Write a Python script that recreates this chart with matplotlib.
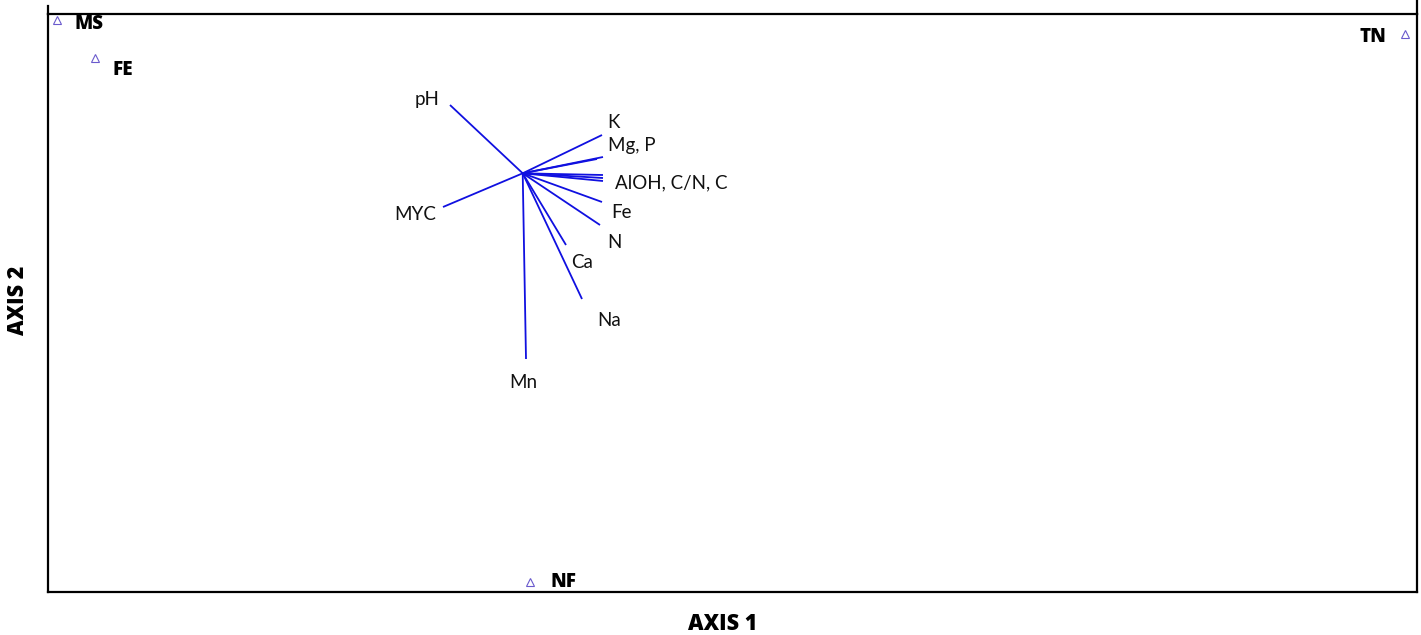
import matplotlib
matplotlib.use("Agg")
import matplotlib.pyplot as plt
from matplotlib.lines import Line2D

# Site scores
sites = ["MS", "FE", "TN", "NF"]
site_x = [-4.657, -4.277, 8.823, 0.073]
site_y = [1.533, 1.153, 1.393, -4.087]

# Environmental vectors (biplot arrows)
var_names = ["pH", "K", "Mg", "P", "AlOH", "C/N", "C", "Fe", "N", "Ca", "Na", "Mn", "MYC"]
var_x = [-0.727, 0.793, 0.803, 0.743, 0.803, 0.803, 0.803, 0.793, 0.773, 0.433, 0.593, 0.033, -0.797]
var_y = [0.683, 0.383, 0.163, 0.143, -0.017, -0.047, -0.077, -0.287, -0.517, -0.717, -1.257, -1.857, -0.337]

# Vector labels (grouped as in the figure)
lab_text = ["pH", "K", "Mg, P", "AlOH, C/N, C", "Fe", "N", "Ca", "Na", "Mn", "MYC"]
lab_x = [-0.957, 0.903, 0.853, 0.923, 0.883, 0.843, 0.483, 0.743, 0.003, -1.077]
lab_y = [0.733, 0.503, 0.283, -0.097, -0.397, -0.687, -0.887, -1.467, -2.087, -0.417]
lab_ha = ["center", "center", "left", "left", "left", "left", "left", "left", "center", "center"]

FONT = "Lato"
BFONT = "Open Sans"

fig = plt.figure(figsize=(14.21, 6.35), dpi=100)
ax = fig.add_axes([48/1421, 1 - 592/635, (1417-48)/1421, (592-14)/635])
ax.set_xlim(-4.747, 8.943)
ax.set_ylim(-4.187, 1.593)
ax.set_xticks([])
ax.set_yticks([])
for s in ax.spines.values():
    s.set_linewidth(1.6)
    s.set_color("black")

# extensions of the vertical frame lines above the top
ax.add_line(Line2D([0, 0], [1, 1.014], transform=ax.transAxes, color="black", lw=1.6, clip_on=False))
ax.add_line(Line2D([1, 1], [1, 1.024], transform=ax.transAxes, color="black", lw=1.6, clip_on=False))

# vectors
for vx, vy in zip(var_x, var_y):
    ax.plot([0, vx], [0, vy], color="#1010e0", lw=1.3, solid_capstyle="butt")

for t, x, y, ha in zip(lab_text, lab_x, lab_y, lab_ha):
    ax.text(x, y, t, ha=ha, va="center", fontsize=13.5, family=FONT, color="#111111")

# sites
ax.plot(site_x, site_y, linestyle="none", marker="^", markersize=6,
        markerfacecolor="none", markeredgecolor="#6a5acd", markeredgewidth=0.8, clip_on=False)

site_lab_dx = [0.18, 0.18, -0.19, 0.2]
site_lab_dy = [-0.04, -0.12, -0.03, 0.0]
site_ha = ["left", "left", "right", "left"]
for n, x, y, dx, dy, ha in zip(sites, site_x, site_y, site_lab_dx, site_lab_dy, site_ha):
    ax.text(x + dx, y + dy, n, ha=ha, va="center", fontsize=13.5, fontweight="heavy", family=BFONT)

fig.text(723/1421, 1 - 624/635, "AXIS 1", ha="center", va="center", fontsize=15.5,
         fontweight="heavy", family=BFONT)
fig.text(18/1421, 1 - 300/635, "AXIS 2", ha="center", va="center", rotation=90, fontsize=15.5,
         fontweight="heavy", family=BFONT)

fig.savefig("out.png", dpi=100)
